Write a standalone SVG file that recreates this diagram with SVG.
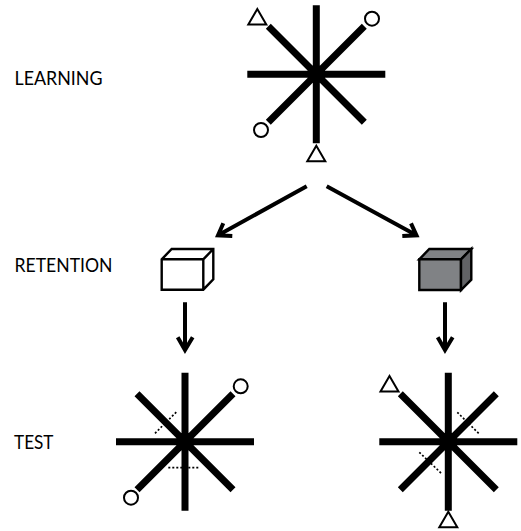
<svg xmlns="http://www.w3.org/2000/svg" width="521" height="531" viewBox="0 0 521 531">
<style>
.arm{stroke:#000;stroke-width:7;fill:none}
.mk{stroke:#000;stroke-width:2;fill:#fff}
.dot{stroke:#000;stroke-width:1.7;stroke-dasharray:2 2;fill:none}
.arr{stroke:#000;stroke-width:4;fill:none}
.box{stroke:#000;stroke-width:2.4;stroke-linejoin:miter}
text{font-family:"Lato","Liberation Sans",sans-serif;font-size:19px;fill:#000}
</style>
<defs>
<g id="star">
<path class="arm" d="M0-69V69M-69 0H69M-48-48L48 48M-48 48L48-48"/>
</g>
<path id="tri" class="mk" d="M0 0L9 15.5H-9Z"/>
</defs>
<rect width="521" height="531" fill="#fff"/>
<g id="labels">
<text x="14.5" y="85" textLength="88" lengthAdjust="spacingAndGlyphs">LEARNING</text>
<text x="14.5" y="272" textLength="98" lengthAdjust="spacingAndGlyphs">RETENTION</text>
<text x="14" y="448.5" textLength="39.5" lengthAdjust="spacingAndGlyphs">TEST</text>
</g>
<g id="learning">
<use href="#star" x="316.3" y="74.3"/>
<use href="#tri" x="257.3" y="9"/>
<use href="#tri" x="316.3" y="145.7"/>
<circle class="mk" cx="372" cy="18.7" r="7"/>
<circle class="mk" cx="261" cy="130" r="7"/>
</g>
<g id="box-white">
<path class="box" fill="#fff" d="M161.7 259.3L171.7 249H213.3V279.3L203.3 289.7H161.7ZM161.7 259.3H203.3V289.7M203.3 259.3L213.3 249"/>
</g>
<g id="box-grey">
<path class="box" fill="#808285" d="M419.3 259.3L429.3 249H471.3L461 259.3ZM419.3 259.3H461V290H419.3Z"/>
<path class="box" fill="#626366" d="M461 259.3L471.3 249V279.7L461 290Z"/>
</g>
<g id="test-left">
<use href="#star" x="185" y="441.7"/>
<circle class="mk" cx="240.7" cy="386.3" r="7"/>
<circle class="mk" cx="131" cy="497.7" r="7"/>
<path class="dot" d="M155 433.3L176.7 411.7M168.3 467.7H200"/>
</g>
<g id="test-right">
<use href="#star" x="448.3" y="441.7"/>
<use href="#tri" x="389.5" y="376"/>
<use href="#tri" x="448.3" y="511.7"/>
<path class="dot" d="M457.3 412.3L479.3 434M419.3 452.3L441.7 473.7"/>
</g>
<g id="connectors">
<path class="arr" d="M306.7 186.3L219 234.7M223.3 223.3L218 235.3L232.3 236"/>
<path class="arr" d="M326.7 186.3L415.5 234.7M411 223.3L416.5 235.3L402.3 236"/>
<path class="arr" d="M185 302.3V349M177.7 337.3L185 350L192.7 337.3"/>
<path class="arr" d="M445 302.3V349M437.7 337.3L445 350L452.7 337.3"/>
</g>
</svg>
